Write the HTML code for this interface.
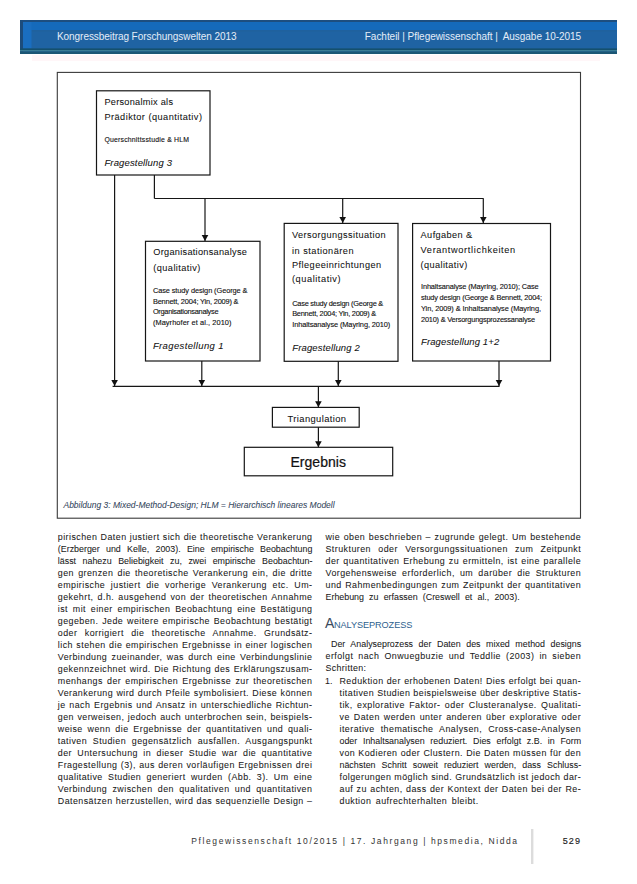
<!DOCTYPE html>
<html><head><meta charset="utf-8"><style>
html,body{margin:0;padding:0;background:#fff;width:637px;height:884px;overflow:hidden}
svg{position:absolute;left:0;top:0}
text{font-family:"Liberation Sans", sans-serif;white-space:pre}
</style></head><body>
<svg width="637" height="884" viewBox="0 0 637 884">
<rect x="32" y="55" width="568" height="6" fill="#fff6f8"/>
<rect x="20" y="20" width="597" height="34" fill="#1f63a3"/>
<rect x="20" y="20" width="597" height="2" fill="#1d4e80"/>
<rect x="20" y="22" width="597" height="8.3" fill="#156abb"/>
<rect x="20" y="30.3" width="597" height="1" fill="#22609a"/>
<rect x="23" y="22" width="8.5" height="26.4" fill="#1a6ec0"/>
<rect x="20" y="20" width="3" height="34" fill="#1c4c7c"/>
<rect x="20" y="48.4" width="597" height="1.6" fill="#14506e"/>
<rect x="20" y="50" width="597" height="1.5" fill="#3a7c94"/>
<rect x="20" y="51.5" width="597" height="2.5" fill="#1b5674"/>
<rect x="57.3" y="72.4" width="523.2" height="445.8" stroke="#3a3a3a" stroke-width="1.1" fill="none"/>
<rect x="96.5" y="90.8" width="113.50" height="84.20" stroke="#161616" stroke-width="1.2" fill="none"/>
<rect x="145.5" y="241.3" width="114.50" height="119.70" stroke="#161616" stroke-width="1.2" fill="none"/>
<rect x="284.2" y="223.4" width="113.80" height="137.90" stroke="#161616" stroke-width="1.2" fill="none"/>
<rect x="412.6" y="223.5" width="137.90" height="137.50" stroke="#161616" stroke-width="1.2" fill="none"/>
<rect x="272.4" y="407.4" width="86.80" height="19.80" stroke="#161616" stroke-width="1.2" fill="none"/>
<rect x="244.3" y="447.3" width="148.40" height="28.50" stroke="#161616" stroke-width="1.2" fill="none"/>
<line x1="114.6" y1="175.0" x2="114.6" y2="386.4" stroke="#161616" stroke-width="1.2" fill="none"/>
<line x1="154.4" y1="175.0" x2="154.4" y2="198.5" stroke="#161616" stroke-width="1.2" fill="none"/>
<line x1="154.4" y1="198.5" x2="483.6" y2="198.5" stroke="#161616" stroke-width="1.2" fill="none"/>
<line x1="205.0" y1="198.5" x2="205.0" y2="241.0" stroke="#161616" stroke-width="1.2" fill="none"/>
<line x1="342.7" y1="198.5" x2="342.7" y2="223.0" stroke="#161616" stroke-width="1.2" fill="none"/>
<line x1="483.3" y1="198.5" x2="483.3" y2="223.0" stroke="#161616" stroke-width="1.2" fill="none"/>
<line x1="201.8" y1="361.0" x2="201.8" y2="386.0" stroke="#161616" stroke-width="1.2" fill="none"/>
<line x1="338.3" y1="361.3" x2="338.3" y2="386.0" stroke="#161616" stroke-width="1.2" fill="none"/>
<line x1="499.0" y1="361.0" x2="499.0" y2="386.0" stroke="#161616" stroke-width="1.2" fill="none"/>
<line x1="112.6" y1="386.4" x2="499.6" y2="386.4" stroke="#161616" stroke-width="1.2" fill="none"/>
<line x1="318.4" y1="386.4" x2="318.4" y2="407.0" stroke="#161616" stroke-width="1.2" fill="none"/>
<line x1="318.4" y1="427.2" x2="318.4" y2="447.0" stroke="#161616" stroke-width="1.2" fill="none"/>
<path d="M111.30 380.00 L117.90 380.00 L114.60 386.00 Z" fill="#111"/>
<path d="M201.70 235.00 L208.30 235.00 L205.00 241.00 Z" fill="#111"/>
<path d="M339.40 217.00 L346.00 217.00 L342.70 223.00 Z" fill="#111"/>
<path d="M480.00 217.00 L486.60 217.00 L483.30 223.00 Z" fill="#111"/>
<path d="M198.50 380.00 L205.10 380.00 L201.80 386.00 Z" fill="#111"/>
<path d="M335.00 380.00 L341.60 380.00 L338.30 386.00 Z" fill="#111"/>
<path d="M495.70 380.00 L502.30 380.00 L499.00 386.00 Z" fill="#111"/>
<path d="M315.10 401.20 L321.70 401.20 L318.40 407.20 Z" fill="#111"/>
<path d="M315.10 441.30 L321.70 441.30 L318.40 447.30 Z" fill="#111"/>
<rect x="531" y="829" width="2.4" height="35" fill="#dcdcdc"/>
<text x="325.0" y="628.2" font-size="14" fill="#3a4a5c">A<tspan font-size="9.2" dx="-0.3" fill="#2e5f8e" letter-spacing="-0.1">NALYSEPROZESS</tspan></text>
<text id="t0" x="57.00" y="40.00" font-size="10.0" fill="#e4edf8" letter-spacing="-0.061">Kongressbeitrag Forschungswelten 2013</text>
<text id="t1" x="364.80" y="40.00" font-size="10.0" fill="#e4edf8" letter-spacing="-0.038">Fachteil | Pflegewissenschaft |  Ausgabe 10-2015</text>
<text id="t2" x="104.40" y="105.00" font-size="9.2" fill="#111" stroke="#111" stroke-width="0.06" letter-spacing="0.267">Personalmix als</text>
<text id="t3" x="104.40" y="120.00" font-size="9.2" fill="#111" stroke="#111" stroke-width="0.06" letter-spacing="0.467">Prädiktor (quantitativ)</text>
<text id="t4" x="104.40" y="142.00" font-size="6.9" fill="#111" stroke="#111" stroke-width="0.12" letter-spacing="0.198">Querschnittsstudie &amp; HLM</text>
<text id="t5" x="104.40" y="165.60" font-size="9.5" font-style="italic" fill="#111" stroke="#111" stroke-width="0.06" letter-spacing="0.151">Fragestellung 3</text>
<text id="t6" x="153.30" y="254.80" font-size="9.2" fill="#111" stroke="#111" stroke-width="0.06" letter-spacing="0.276">Organisationsanalyse</text>
<text id="t7" x="153.30" y="271.00" font-size="9.2" fill="#111" stroke="#111" stroke-width="0.06" letter-spacing="0.428">(qualitativ)</text>
<text id="t8" x="152.90" y="293.20" font-size="7.4" fill="#111" stroke="#111" stroke-width="0.12" letter-spacing="-0.091">Case study design (George &amp;</text>
<text id="t9" x="152.90" y="303.70" font-size="7.4" fill="#111" stroke="#111" stroke-width="0.12" letter-spacing="-0.185">Bennett, 2004; Yin, 2009) &amp;</text>
<text id="t10" x="152.90" y="314.30" font-size="7.4" fill="#111" stroke="#111" stroke-width="0.12" letter-spacing="-0.288">Organisationsanalyse</text>
<text id="t11" x="152.90" y="325.30" font-size="7.4" fill="#111" stroke="#111" stroke-width="0.12" letter-spacing="0.077">(Mayrhofer et al., 2010)</text>
<text id="t12" x="152.90" y="349.40" font-size="9.5" font-style="italic" fill="#111" stroke="#111" stroke-width="0.06" letter-spacing="0.365">Fragestellung 1</text>
<text id="t13" x="292.00" y="238.00" font-size="9.2" fill="#111" stroke="#111" stroke-width="0.06" letter-spacing="0.410">Versorgungssituation</text>
<text id="t14" x="292.00" y="253.50" font-size="9.2" fill="#111" stroke="#111" stroke-width="0.06" letter-spacing="0.494">in stationären</text>
<text id="t15" x="292.00" y="267.70" font-size="9.2" fill="#111" stroke="#111" stroke-width="0.06" letter-spacing="0.438">Pflegeeinrichtungen</text>
<text id="t16" x="292.00" y="282.00" font-size="9.2" fill="#111" stroke="#111" stroke-width="0.06" letter-spacing="0.564">(qualitativ)</text>
<text id="t17" x="292.20" y="305.80" font-size="7.4" fill="#111" stroke="#111" stroke-width="0.12" letter-spacing="-0.225">Case study design (George &amp;</text>
<text id="t18" x="292.20" y="316.40" font-size="7.4" fill="#111" stroke="#111" stroke-width="0.12" letter-spacing="-0.246">Bennett, 2004; Yin, 2009) &amp;</text>
<text id="t19" x="292.20" y="326.90" font-size="7.4" fill="#111" stroke="#111" stroke-width="0.12" letter-spacing="-0.102">Inhaltsanalyse (Mayring, 2010)</text>
<text id="t20" x="292.20" y="350.60" font-size="9.5" font-style="italic" fill="#111" stroke="#111" stroke-width="0.06" letter-spacing="0.151">Fragestellung 2</text>
<text id="t21" x="420.60" y="238.00" font-size="9.2" fill="#111" stroke="#111" stroke-width="0.06" letter-spacing="0.397">Aufgaben &amp;</text>
<text id="t22" x="420.60" y="253.00" font-size="9.2" fill="#111" stroke="#111" stroke-width="0.06" letter-spacing="0.651">Verantwortlichkeiten</text>
<text id="t23" x="420.60" y="268.30" font-size="9.2" fill="#111" stroke="#111" stroke-width="0.06" letter-spacing="0.383">(qualitativ)</text>
<text id="t24" x="421.00" y="288.60" font-size="7.4" fill="#111" stroke="#111" stroke-width="0.12" letter-spacing="-0.138">Inhaltsanalyse (Mayring, 2010); Case</text>
<text id="t25" x="421.00" y="299.60" font-size="7.4" fill="#111" stroke="#111" stroke-width="0.12" letter-spacing="-0.186">study design (George &amp; Bennett, 2004;</text>
<text id="t26" x="421.00" y="310.60" font-size="7.4" fill="#111" stroke="#111" stroke-width="0.12" letter-spacing="-0.071">Yin, 2009) &amp; Inhaltsanalyse (Mayring,</text>
<text id="t27" x="421.00" y="322.30" font-size="7.4" fill="#111" stroke="#111" stroke-width="0.12" letter-spacing="-0.212">2010) &amp; Versorgungsprozessanalyse</text>
<text id="t28" x="421.00" y="345.30" font-size="9.5" font-style="italic" fill="#111" stroke="#111" stroke-width="0.06" letter-spacing="0.117">Fragestellung 1+2</text>
<text id="t29" x="287.60" y="421.60" font-size="9.4" fill="#111" stroke="#111" stroke-width="0.06" letter-spacing="0.378">Triangulation</text>
<text id="t30" x="290.40" y="466.80" font-size="14.0" fill="#111" stroke="#111" stroke-width="0.22" letter-spacing="0.048">Ergebnis</text>
<text id="t31" x="63.50" y="507.60" font-size="8.5" font-style="italic" fill="#34465c" stroke="#34465c" stroke-width="0.06" letter-spacing="-0.012">Abbildung 3: Mixed-Method-Design; HLM = Hierarchisch lineares Modell</text>
<text id="t32" x="57.80" y="539.90" font-size="8.9" fill="#1a1a1a" stroke="#1a1a1a" stroke-width="0.06" letter-spacing="0.450" word-spacing="0.344">pirischen Daten justiert sich die theoretische Verankerung</text>
<text id="t33" x="57.80" y="551.90" font-size="8.9" fill="#1a1a1a" stroke="#1a1a1a" stroke-width="0.06" word-spacing="3.787">(Erzberger und Kelle, 2003). Eine empirische Beobachtung</text>
<text id="t34" x="57.80" y="563.90" font-size="8.9" fill="#1a1a1a" stroke="#1a1a1a" stroke-width="0.06" word-spacing="4.035">lässt nahezu Beliebigkeit zu, zwei empirische Beobachtun-</text>
<text id="t35" x="57.80" y="575.90" font-size="8.9" fill="#1a1a1a" stroke="#1a1a1a" stroke-width="0.06" letter-spacing="0.450" word-spacing="1.265">gen grenzen die theoretische Verankerung ein, die dritte</text>
<text id="t36" x="57.80" y="587.90" font-size="8.9" fill="#1a1a1a" stroke="#1a1a1a" stroke-width="0.06" letter-spacing="0.450" word-spacing="2.701">empirische justiert die vorherige Verankerung etc. Um-</text>
<text id="t37" x="57.80" y="599.90" font-size="8.9" fill="#1a1a1a" stroke="#1a1a1a" stroke-width="0.06" letter-spacing="0.450" word-spacing="1.206">gekehrt, d.h. ausgehend von der theoretischen Annahme</text>
<text id="t38" x="57.80" y="611.90" font-size="8.9" fill="#1a1a1a" stroke="#1a1a1a" stroke-width="0.06" letter-spacing="0.450" word-spacing="1.876">ist mit einer empirischen Beobachtung eine Bestätigung</text>
<text id="t39" x="57.80" y="623.90" font-size="8.9" fill="#1a1a1a" stroke="#1a1a1a" stroke-width="0.06" letter-spacing="0.450" word-spacing="0.863">gegeben. Jede weitere empirische Beobachtung bestätigt</text>
<text id="t40" x="57.80" y="635.90" font-size="8.9" fill="#1a1a1a" stroke="#1a1a1a" stroke-width="0.06" letter-spacing="0.450" word-spacing="4.506">oder korrigiert die theoretische Annahme. Grundsätz-</text>
<text id="t41" x="57.80" y="647.90" font-size="8.9" fill="#1a1a1a" stroke="#1a1a1a" stroke-width="0.06" letter-spacing="0.450" word-spacing="0.497">lich stehen die empirischen Ergebnisse in einer logischen</text>
<text id="t42" x="57.80" y="659.90" font-size="8.9" fill="#1a1a1a" stroke="#1a1a1a" stroke-width="0.06" letter-spacing="0.450" word-spacing="1.454">Verbindung zueinander, was durch eine Verbindungslinie</text>
<text id="t43" x="57.80" y="671.90" font-size="8.9" fill="#1a1a1a" stroke="#1a1a1a" stroke-width="0.06" letter-spacing="0.450" word-spacing="0.576">gekennzeichnet wird. Die Richtung des Erklärungszusam-</text>
<text id="t44" x="57.80" y="683.90" font-size="8.9" fill="#1a1a1a" stroke="#1a1a1a" stroke-width="0.06" letter-spacing="0.450" word-spacing="1.256">menhangs der empirischen Ergebnisse zur theoretischen</text>
<text id="t45" x="57.80" y="695.90" font-size="8.9" fill="#1a1a1a" stroke="#1a1a1a" stroke-width="0.06" letter-spacing="0.450" word-spacing="0.413">Verankerung wird durch Pfeile symbolisiert. Diese können</text>
<text id="t46" x="57.80" y="707.90" font-size="8.9" fill="#1a1a1a" stroke="#1a1a1a" stroke-width="0.06" letter-spacing="0.450" word-spacing="0.774">je nach Ergebnis und Ansatz in unterschiedliche Richtun-</text>
<text id="t47" x="57.80" y="719.90" font-size="8.9" fill="#1a1a1a" stroke="#1a1a1a" stroke-width="0.06" letter-spacing="0.450" word-spacing="0.572">gen verweisen, jedoch auch unterbrochen sein, beispiels-</text>
<text id="t48" x="57.80" y="731.90" font-size="8.9" fill="#1a1a1a" stroke="#1a1a1a" stroke-width="0.06" letter-spacing="0.450" word-spacing="1.887">weise wenn die Ergebnisse der quantitativen und quali-</text>
<text id="t49" x="57.80" y="743.90" font-size="8.9" fill="#1a1a1a" stroke="#1a1a1a" stroke-width="0.06" letter-spacing="0.450" word-spacing="2.805">tativen Studien gegensätzlich ausfallen. Ausgangspunkt</text>
<text id="t50" x="57.80" y="755.90" font-size="8.9" fill="#1a1a1a" stroke="#1a1a1a" stroke-width="0.06" letter-spacing="0.450" word-spacing="2.451">der Untersuchung in dieser Studie war die quantitative</text>
<text id="t51" x="57.80" y="767.90" font-size="8.9" fill="#1a1a1a" stroke="#1a1a1a" stroke-width="0.06" letter-spacing="0.450" word-spacing="0.416">Fragestellung (3), aus deren vorläufigen Ergebnissen drei</text>
<text id="t52" x="57.80" y="779.90" font-size="8.9" fill="#1a1a1a" stroke="#1a1a1a" stroke-width="0.06" letter-spacing="0.450" word-spacing="2.382">qualitative Studien generiert wurden (Abb. 3). Um eine</text>
<text id="t53" x="57.80" y="791.90" font-size="8.9" fill="#1a1a1a" stroke="#1a1a1a" stroke-width="0.06" letter-spacing="0.450" word-spacing="2.341">Verbindung zwischen den qualitativen und quantitativen</text>
<text id="t54" x="57.80" y="803.90" font-size="8.9" fill="#1a1a1a" stroke="#1a1a1a" stroke-width="0.06" letter-spacing="0.450" word-spacing="0.327">Datensätzen herzustellen, wird das sequenzielle Design –</text>
<text id="t55" x="325.50" y="539.90" font-size="8.9" fill="#1a1a1a" stroke="#1a1a1a" stroke-width="0.06" letter-spacing="0.450" word-spacing="0.612">wie oben beschrieben – zugrunde gelegt. Um bestehende</text>
<text id="t56" x="325.50" y="551.90" font-size="8.9" fill="#1a1a1a" stroke="#1a1a1a" stroke-width="0.06" letter-spacing="0.450" word-spacing="4.398">Strukturen oder Versorgungssituationen zum Zeitpunkt</text>
<text id="t57" x="325.50" y="563.90" font-size="8.9" fill="#1a1a1a" stroke="#1a1a1a" stroke-width="0.06" letter-spacing="0.450" word-spacing="0.724">der quantitativen Erhebung zu ermitteln, ist eine parallele</text>
<text id="t58" x="325.50" y="575.90" font-size="8.9" fill="#1a1a1a" stroke="#1a1a1a" stroke-width="0.06" letter-spacing="0.450" word-spacing="2.254">Vorgehensweise erforderlich, um darüber die Strukturen</text>
<text id="t59" x="325.50" y="587.90" font-size="8.9" fill="#1a1a1a" stroke="#1a1a1a" stroke-width="0.06" letter-spacing="0.450" word-spacing="0.659">und Rahmenbedingungen zum Zeitpunkt der quantitativen</text>
<text id="t60" x="325.50" y="599.90" font-size="8.9" fill="#1a1a1a" stroke="#1a1a1a" stroke-width="0.06" word-spacing="2.668">Erhebung zu erfassen (Creswell et al., 2003).</text>
<text id="t61" x="331.00" y="647.20" font-size="8.9" fill="#1a1a1a" stroke="#1a1a1a" stroke-width="0.06" word-spacing="3.099">Der Analyseprozess der Daten des mixed method designs</text>
<text id="t62" x="325.50" y="659.20" font-size="8.9" fill="#1a1a1a" stroke="#1a1a1a" stroke-width="0.06" letter-spacing="0.450" word-spacing="2.116">erfolgt nach Onwuegbuzie und Teddlie (2003) in sieben</text>
<text id="t63" x="325.50" y="671.20" font-size="8.9" fill="#1a1a1a" stroke="#1a1a1a" stroke-width="0.06" letter-spacing="0.344">Schritten:</text>
<text id="t64" x="325.00" y="683.50" font-size="8.9" fill="#1a1a1a" stroke="#1a1a1a" stroke-width="0.06">1.</text>
<text id="t65" x="339.50" y="683.50" font-size="8.9" fill="#1a1a1a" stroke="#1a1a1a" stroke-width="0.06" letter-spacing="0.450" word-spacing="0.306">Reduktion der erhobenen Daten! Dies erfolgt bei quan-</text>
<text id="t66" x="339.50" y="695.50" font-size="8.9" fill="#1a1a1a" stroke="#1a1a1a" stroke-width="0.06" letter-spacing="0.450" word-spacing="0.074">titativen Studien beispielsweise über deskriptive Statis-</text>
<text id="t67" x="339.50" y="707.50" font-size="8.9" fill="#1a1a1a" stroke="#1a1a1a" stroke-width="0.06" letter-spacing="0.450" word-spacing="1.452">tik, explorative Faktor- oder Clusteranalyse. Qualitati-</text>
<text id="t68" x="339.50" y="719.50" font-size="8.9" fill="#1a1a1a" stroke="#1a1a1a" stroke-width="0.06" letter-spacing="0.450" word-spacing="1.140">ve Daten werden unter anderen über explorative oder</text>
<text id="t69" x="339.50" y="731.50" font-size="8.9" fill="#1a1a1a" stroke="#1a1a1a" stroke-width="0.06" letter-spacing="0.450" word-spacing="3.165">iterative thematische Analysen, Cross-case-Analysen</text>
<text id="t70" x="339.50" y="743.50" font-size="8.9" fill="#1a1a1a" stroke="#1a1a1a" stroke-width="0.06" word-spacing="3.226">oder Inhaltsanalysen reduziert. Dies erfolgt z.B. in Form</text>
<text id="t71" x="339.50" y="755.50" font-size="8.9" fill="#1a1a1a" stroke="#1a1a1a" stroke-width="0.06" letter-spacing="0.450" word-spacing="0.265">von Kodieren oder Clustern. Die Daten müssen für den</text>
<text id="t72" x="339.50" y="767.50" font-size="8.9" fill="#1a1a1a" stroke="#1a1a1a" stroke-width="0.06" word-spacing="3.597">nächsten Schritt soweit reduziert werden, dass Schluss-</text>
<text id="t73" x="339.50" y="779.50" font-size="8.9" fill="#1a1a1a" stroke="#1a1a1a" stroke-width="0.06" letter-spacing="0.450" word-spacing="0.129">folgerungen möglich sind. Grundsätzlich ist jedoch dar-</text>
<text id="t74" x="339.50" y="791.50" font-size="8.9" fill="#1a1a1a" stroke="#1a1a1a" stroke-width="0.06" letter-spacing="0.450" word-spacing="0.511">auf zu achten, dass der Kontext der Daten bei der Re-</text>
<text id="t75" x="339.50" y="803.50" font-size="8.9" fill="#1a1a1a" stroke="#1a1a1a" stroke-width="0.06" letter-spacing="0.450" word-spacing="1.662">duktion aufrechterhalten bleibt.</text>
<text id="t76" x="191.30" y="844.00" font-size="8.5" fill="#333" letter-spacing="1.598">Pflegewissenschaft 10/2015 | 17. Jahrgang | hpsmedia, Nidda</text>
<text id="t77" x="562.80" y="843.80" font-size="9.0" fill="#222" stroke="#222" stroke-width="0.15" letter-spacing="1.034">529</text>
</svg>
</body></html>
